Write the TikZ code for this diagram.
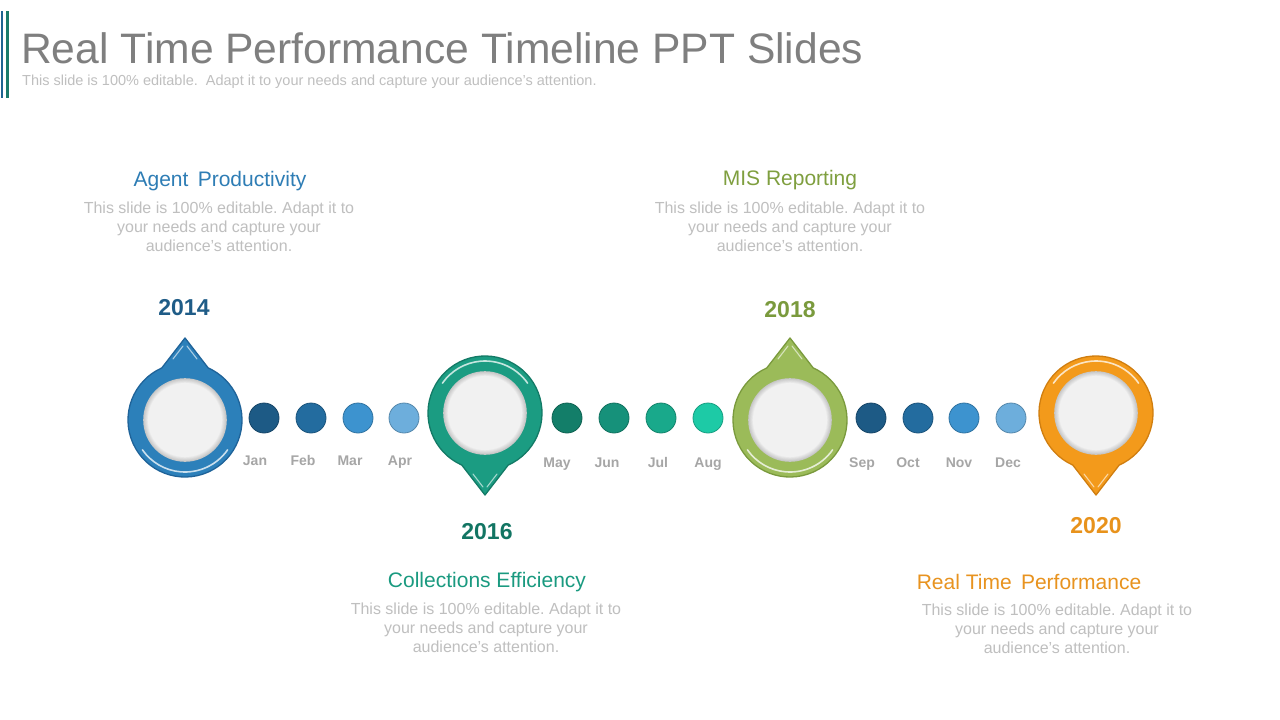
\documentclass[tikz,border=0pt]{standalone}
\usepackage{fontspec}
\setmainfont{Liberation Sans}
\frenchspacing
\definecolor{titlegray}{HTML}{7F7F7F}
\definecolor{bodygray}{HTML}{BFBFBF}
\definecolor{monthgray}{HTML}{A6A6A6}
\definecolor{barblue}{HTML}{1F6391}
\definecolor{barteal}{HTML}{1A7A6A}
\definecolor{pblue}{HTML}{2C80BA}
\definecolor{pbluedk}{HTML}{1F6399}
\definecolor{pteal}{HTML}{1B9C82}
\definecolor{ptealdk}{HTML}{137A66}
\definecolor{pgreen}{HTML}{9BBB59}
\definecolor{pgreendk}{HTML}{7A9A3D}
\definecolor{porange}{HTML}{F39A1B}
\definecolor{porangedk}{HTML}{D07E10}
\definecolor{hblue}{HTML}{2E7DB5}
\definecolor{hteal}{HTML}{1A9A80}
\definecolor{hgreen}{HTML}{7F9F3F}
\definecolor{horange}{HTML}{E8931F}
\definecolor{yblue}{HTML}{1F5C87}
\definecolor{yteal}{HTML}{127563}
\definecolor{ygreen}{HTML}{7A9A3D}
\definecolor{yorange}{HTML}{E8921B}
\definecolor{bA}{HTML}{1D5A85}
\definecolor{bB}{HTML}{236C9F}
\definecolor{bC}{HTML}{3D93CF}
\definecolor{bD}{HTML}{6DAEDC}
\definecolor{tA}{HTML}{137E69}
\definecolor{tB}{HTML}{16917A}
\definecolor{tC}{HTML}{19A98B}
\definecolor{tD}{HTML}{1DCAA6}
\definecolor{innerwhite}{HTML}{F1F1F1}
\tikzset{
  pics/mypin/.style 2 args={code={
    \fill[#1] (0,-82) -- (246:57) arc[start angle=246,end angle=-66,radius=57] -- cycle;
    \draw[#2,line width=1.3pt,line join=round] (0,-82) -- (246:57) arc[start angle=246,end angle=-66,radius=57] -- cycle;
    \draw[white,opacity=.75,line width=1.6pt,line cap=round] (35:52) arc[start angle=35,end angle=145,radius=52];
    \draw[white,opacity=.6,line width=1.1pt,line cap=round] (-2,-74) -- (-12,-61);
    \draw[white,opacity=.6,line width=1.1pt,line cap=round] (2,-74) -- (12,-61);
    \foreach \r/\g in {41.8/18,41/15,40.2/12,39.4/9,38.6/6,37.8/3}{
      \fill[black!\g!innerwhite] (0,0) circle[radius=\r];
    }
    \fill[innerwhite] (0,0) circle[radius=37];
  }},
  dot/.style={circle,minimum size=30pt,inner sep=0pt,fill=#1,draw=#1!78!black,line width=0.8pt},
  month/.style={font=\fontsize{14}{16}\selectfont\bfseries,text=monthgray,inner sep=0pt,anchor=base},
  year/.style={font=\fontsize{23}{26}\selectfont\bfseries,inner sep=0pt},
  head/.style={font=\fontsize{21}{24}\selectfont,inner sep=0pt},
  body/.style={font=\fontsize{16}{19}\selectfont,text=bodygray,align=center,inner sep=0pt},
}
\begin{document}
\begin{tikzpicture}[x=1pt,y=-1pt]
\useasboundingbox[fill=white] (0,0) rectangle (1280,720);
% left bars
\fill[barblue] (0.5,11) rectangle (3,98);
\fill[barteal] (6,11) rectangle (8.5,98);
% title
\node[anchor=base west,inner sep=0pt,font=\fontsize{42.6}{48}\selectfont,text=titlegray] (title) at (21,63) {Real Time Performance Timeline PPT Slides};
\node[anchor=base west,inner sep=0pt,font=\fontsize{14.5}{16}\selectfont,text=bodygray] (subtitle) at (22,85) {This slide is 100\% editable. \ Adapt it to your needs and capture your audience's attention.};
% pins
\pic at (185,420) {mypin={pblue}{pbluedk}};
\pic[yscale=-1] at (485,413) {mypin={pteal}{ptealdk}};
\pic at (790,420) {mypin={pgreen}{pgreendk}};
\pic[yscale=-1] at (1096,413) {mypin={porange}{porangedk}};
% dots
\node[dot=bA] (jan) at (264,418) {};
\node[dot=bB] (feb) at (311,418) {};
\node[dot=bC] (mar) at (358,418) {};
\node[dot=bD] (apr) at (404,418) {};
\node[dot=tA] (may) at (567,418) {};
\node[dot=tB] (jun) at (614,418) {};
\node[dot=tC] (jul) at (661,418) {};
\node[dot=tD] (aug) at (708,418) {};
\node[dot=bA] (sep) at (871,418) {};
\node[dot=bB] (oct) at (918,418) {};
\node[dot=bC] (nov) at (964,418) {};
\node[dot=bD] (dec) at (1011,418) {};
% month labels
\node[month] (ljan) at (255,465) {Jan};
\node[month] (lfeb) at (303,465) {Feb};
\node[month] (lmar) at (350,465) {Mar};
\node[month] (lapr) at (400,465) {Apr};
\node[month] (lmay) at (557,467) {May};
\node[month] (ljun) at (607,467) {Jun};
\node[month] (ljul) at (658,467) {Jul};
\node[month] (laug) at (708,467) {Aug};
\node[month] (lsep) at (862,467) {Sep};
\node[month] (loct) at (908,467) {Oct};
\node[month] (lnov) at (959,467) {Nov};
\node[month] (ldec) at (1008,467) {Dec};
% years
\node[year,text=yblue] (y2014) at (184,308) {2014};
\node[year,text=yteal] (y2016) at (487,532) {2016};
\node[year,text=ygreen] (y2018) at (790,310) {2018};
\node[year,text=yorange] (y2020) at (1096,526) {2020};
% headings
\node[head,text=hblue] (h1) at (220,181) {Agent \,Productivity};
\node[head,text=hgreen] (h3) at (790,180) {MIS Reporting};
\node[head,text=hteal] (h2) at (487,582) {Collections Efficiency};
\node[head,text=horange] (h4) at (1029,582) {Real Time \,Performance};
% bodies
\node[body] (b1) at (219,227) {This slide is 100\% editable. Adapt it to\\your needs and capture your\\audience's attention.};
\node[body] (b3) at (790,227) {This slide is 100\% editable. Adapt it to\\your needs and capture your\\audience's attention.};
\node[body] (b2) at (486,628) {This slide is 100\% editable. Adapt it to\\your needs and capture your\\audience's attention.};
\node[body] (b4) at (1057,629) {This slide is 100\% editable. Adapt it to\\your needs and capture your\\audience's attention.};
\end{tikzpicture}
\end{document}
